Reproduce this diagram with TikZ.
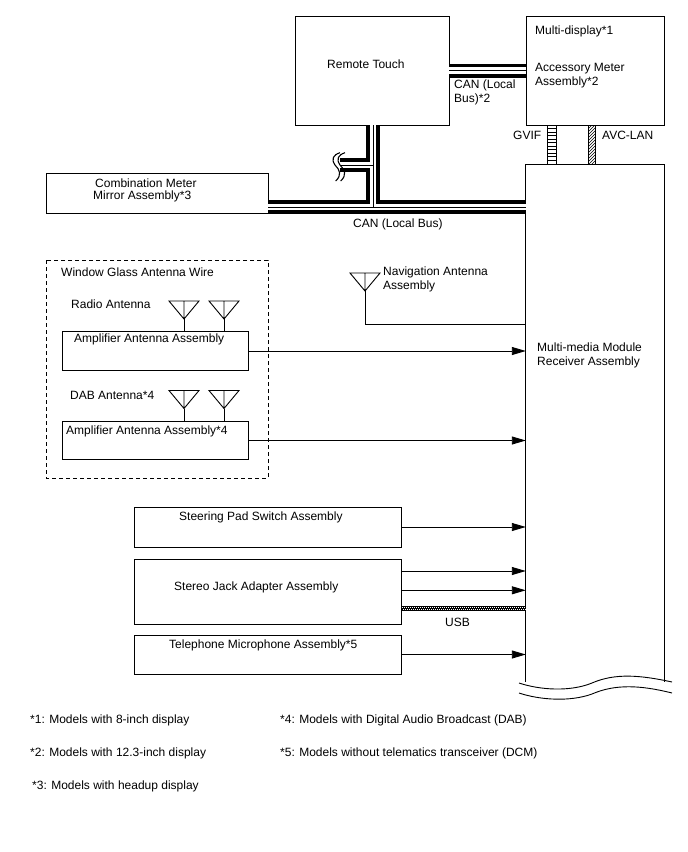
\documentclass[tikz,border=0pt]{standalone}
\usepackage{fontspec}
\setmainfont{Liberation Sans}
\usetikzlibrary{arrows.meta,patterns}

\tikzset{
    box/.style={draw,line width=.9pt,inner sep=0pt},
    lbl/.style={anchor=west,inner sep=0pt,align=left,yshift=-.7pt,font=\fontsize{12}{14}\selectfont},
    signal/.style={line width=.9pt,-{Triangle[length=14pt,width=8pt]}},
    wire/.style={line width=.9pt},
    wave/.style={line width=.9pt}
}

\begin{document}
\begin{tikzpicture}[x=1pt,y=-1pt]
            \useasboundingbox (0,0) rectangle (688,852);

            % units
            \node[box,minimum width=154pt,minimum height=109pt] (remote) at (372,70.5) {};
            \node[box,minimum width=138pt,minimum height=109pt] (disp) at (595,70.5) {};
            \node[box,minimum width=222pt,minimum height=40pt] (combo) at (157,193) {};
            \node[box,minimum width=186pt,minimum height=38.5pt] (ampa) at (155,351) {};
            \node[box,minimum width=186pt,minimum height=38.5pt] (ampb) at (155,440.5) {};
            \node[box,minimum width=267pt,minimum height=40pt] (steer) at (267.5,527) {};
            \node[box,minimum width=267pt,minimum height=65pt] (stereo) at (267.5,591.5) {};
            \node[box,minimum width=267pt,minimum height=39pt] (tel) at (267.5,654.5) {};
            \node[minimum width=138pt,minimum height=517pt,inner sep=0pt] (main) at (595,423.5) {};
            \draw[wire] (main.south west) -- (main.north west) -- (main.north east) -- (main.south east);
            \draw[wire,dashed,dash pattern=on 4pt off 3pt] (46,260) rectangle (268,478);

            % broken lower end of the receiver
            \draw[wave] (519,683) .. controls (540,690) and (570,692) .. (592,683) .. controls (615,673) and (640,675) .. (672,682);
            \draw[wave] (519,693) .. controls (540,700) and (570,702) .. (592,694) .. controls (615,684) and (640,685) .. (672,693);

            % CAN buses, black first, then white, then the middle wire
            \coordinate (busw) at (combo.east |- 0,207);
            \coordinate (buse) at (main.west |- 0,207);
            \coordinate (bust) at (373,0 |- remote.south);
            \coordinate (busj) at (373,207);
            \coordinate (brj) at (373,165);
            \coordinate (brw) at (340,165);
            \coordinate (cana) at (remote.east |- 0,70.7);
            \coordinate (canb) at (disp.west |- 0,70.7);
            \foreach \w/\c in {14/black,6.6/white,.8/black}
                \draw[line width=\w pt,\c] (busw) -- (buse) (bust) -- (busj) (brj) -- (brw) (cana) -- (canb);
            \foreach \x in {0,5}
                \draw[wave,line width=1.1pt] (340+\x,152.7) .. controls (333+\x,155) and (331+\x,159) .. (335+\x,165) .. controls (340+\x,170) and (342+\x,175) .. (335.7+\x,181);

            % GVIF and AVC-LAN
            \coordinate (gvifa) at (552,0 |- disp.south);
            \coordinate (gvifb) at (552,0 |- main.north);
            \coordinate (avca) at (592,0 |- disp.south);
            \coordinate (avcb) at (592,0 |- main.north);
            \draw[wire] ([xshift=-4.2pt]gvifa) rectangle ([xshift=4.2pt]gvifb);
            \foreach \y in {128.5,132,...,163}
                \draw[line width=.8pt] (548,\y) -- (556,\y);
            \draw[wire,pattern=north east lines] ([xshift=-3.2pt]avca) rectangle ([xshift=3.2pt]avcb);

            % antennas
            \foreach \n/\x/\y in {rada/184/319,radb/224/319,daba/184/408.5,dabb/224/408.5,nav/365/291} {
                \coordinate (\n) at (\x,\y);
                \draw[wire] (\x-15,\y-18) -- (\x+15,\y-18) -- (\n) -- cycle (\x,\y-18) -- (\n);
            }
            \draw[wire] (rada) -- (rada |- ampa.north);
            \draw[wire] (radb) -- (radb |- ampa.north);
            \draw[wire] (daba) -- (daba |- ampb.north);
            \draw[wire] (dabb) -- (dabb |- ampb.north);
            \draw[wire] (nav) -- (nav |- 0,324) -- (main.west |- 0,324);

            % signals into the receiver
            \coordinate (stereoa) at (stereo.east |- 0,571);
            \coordinate (stereob) at (stereo.east |- 0,590.3);
            \coordinate (usba) at (stereo.east |- 0,608.3);
            \coordinate (usbb) at (main.west |- 0,608.3);
            \foreach \n in {ampa.east,ampb.east,steer.east,stereoa,stereob,tel.east}
                \draw[signal] (\n) -- (main.west |- \n);
            \fill[black] ([yshift=2.8pt]usba) rectangle ([yshift=-2.8pt]usbb);
            \foreach \x in {402,404,...,524} {
                \fill[white] (\x,607) rectangle +(1,1);
                \fill[white] (\x+1,608.6) rectangle +(1,1);
            }

            % labels
            \foreach \n/\x/\y/\t in {
                    ltouch/327/64/Remote Touch,
                    lmulti/535/31/Multi-display*1,
                    lmeter/535/75/{Accessory Meter\\Assembly*2},
                    lcanb/454/92/{CAN (Local\\Bus)*2},
                    lgvif/513/135/GVIF,
                    lavc/602/135/AVC-LAN,
                    lcan/353/224/CAN (Local Bus),
                    lcomboa/95/183/Combination Meter,
                    lcombob/93/196/Mirror Assembly*3,
                    lwin/61/272/Window Glass Antenna Wire,
                    lrad/71/304/Radio Antenna,
                    lampa/74/339/Amplifier Antenna Assembly,
                    ldab/70/395/DAB Antenna*4,
                    lampb/66/431/Amplifier Antenna Assembly*4,
                    lnav/383/279/{Navigation Antenna\\Assembly},
                    lmain/537/355/{Multi-media Module\\Receiver Assembly},
                    lsteer/179/517/Steering Pad Switch Assembly,
                    lstereo/174/587/Stereo Jack Adapter Assembly,
                    ltel/169/645/Telephone Microphone Assembly*5,
                    lusb/445/622/USB,
                    lnotea/30/720/*1: Models with 8-inch display,
                    lnoteb/30/753/*2: Models with 12.3-inch display,
                    lnotec/32/786/*3: Models with headup display,
                    lnoted/280/720/*4: Models with Digital Audio Broadcast (DAB),
                    lnotee/280/753/*5: Models without telematics transceiver (DCM)}
                \node[lbl] (\n) at (\x,\y) {\t};
        \end{tikzpicture}
\end{document}
